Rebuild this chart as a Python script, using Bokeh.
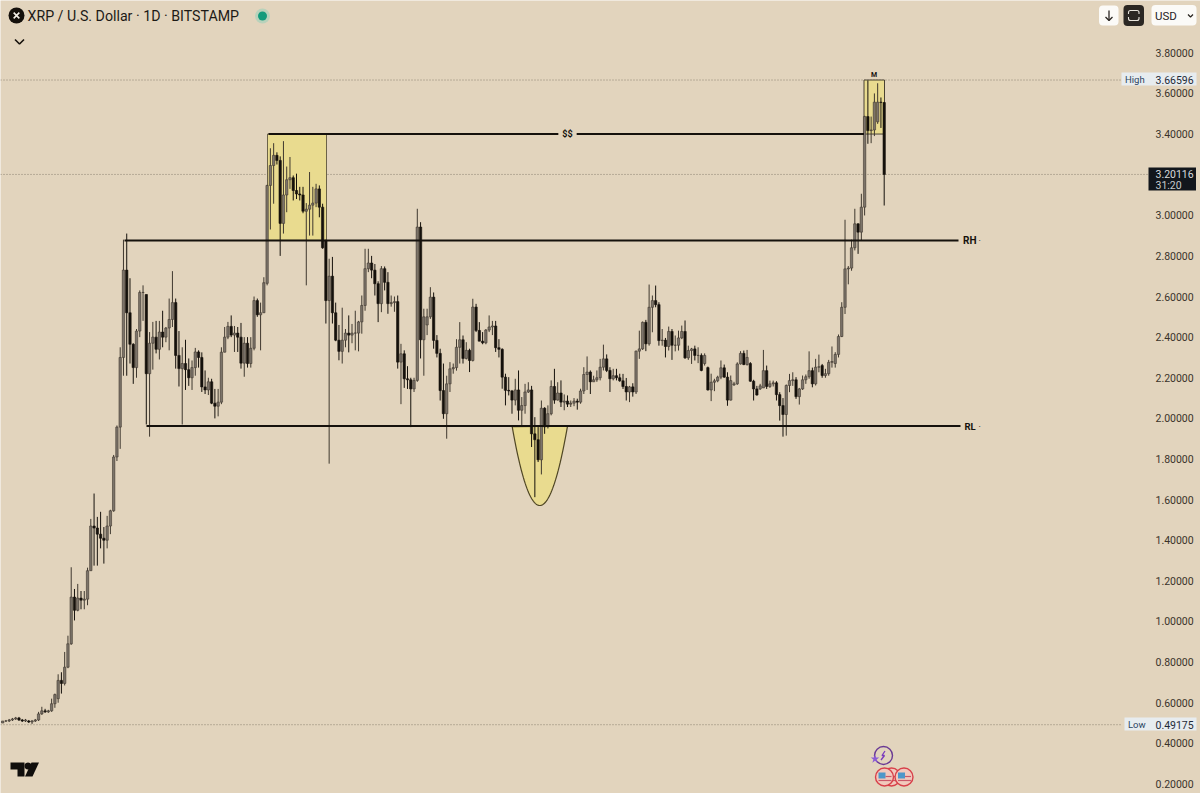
from bokeh.plotting import figure
from bokeh.models import Range1d, LinearAxis, FixedTicker, PrintfTickFormatter, Label
from bokeh.embed import file_html
from bokeh.resources import INLINE
import numpy as np

# ---- chart values (USD, one row of ten daily candles per line) ----
opens = [
 .50,.51,.51,.515,.52,.525,.515,.51,.51,.505,
 .51,.515,.545,.56,.555,.56,.595,.62,.71,.695,
 .775,.89,1.12,1.055,1.115,1.105,1.11,1.25,1.47,1.46,
 1.43,1.41,1.40,1.47,1.545,1.81,1.957,2.30,2.73,2.52,
 2.365,2.25,2.43,2.62,2.61,2.22,2.37,2.40,2.34,2.425,
 2.40,2.445,2.487,2.57,2.31,2.245,2.27,2.24,2.20,2.25,
 2.327,2.30,2.155,2.14,2.18,2.075,2.06,2.08,2.326,2.40,
 2.453,2.41,2.42,2.40,2.272,2.37,2.27,2.345,2.58,2.51,
 2.52,2.665,3.147,3.245,3.295,3.27,2.96,3.10,3.175,3.185,
 3.122,3.105,3.10,3.02,3.03,3.05,3.06,3.13,3.04,2.875,
 2.58,2.70,2.52,2.385,2.33,2.385,2.42,2.41,2.42,2.42,
 2.475,2.556,2.737,2.765,2.73,2.663,2.565,2.737,2.67,2.565,
 2.57,2.575,2.277,2.318,2.195,2.19,2.145,2.187,2.942,2.387,
 2.46,2.50,2.597,2.384,2.32,2.137,2.023,2.17,2.244,2.25,
 2.35,2.387,2.295,2.335,2.285,2.548,2.433,2.38,2.372,2.435,
 2.45,2.455,2.348,2.34,2.203,2.138,2.135,2.09,2.14,2.04,
 2.063,2.13,2.14,1.924,1.895,1.796,2.05,1.958,2.023,2.157,
 2.09,2.125,2.08,2.085,2.07,2.075,2.085,2.08,2.135,2.216,
 2.228,2.18,2.19,2.2,2.252,2.293,2.236,2.195,2.21,2.2,
 2.185,2.157,2.13,2.155,2.13,2.331,2.342,2.473,2.367,2.547,
 2.58,2.56,2.383,2.385,2.354,2.428,2.36,2.36,2.396,2.428,
 2.298,2.334,2.342,2.31,2.31,2.27,2.25,2.14,2.178,2.185,
 2.203,2.249,2.203,2.09,2.165,2.17,2.268,2.32,2.265,2.27,
 2.183,2.145,2.145,2.15,2.235,2.157,2.17,2.175,2.117,2.063,
 2.019,2.162,2.186,2.19,2.107,2.145,2.19,2.205,2.235,2.17,
 2.252,2.26,2.211,2.22,2.276,2.27,2.315,2.403,2.547,2.736,
 2.74,2.84,2.958,2.917,3.04,3.486,3.417,3.42,3.46,3.557,
 3.555]
highs = [
 .51,.515,.52,.525,.53,.53,.52,.52,.515,.515,
 .52,.555,.58,.57,.565,.62,.645,.74,.75,.85,
 .93,1.267,1.16,1.185,1.15,1.15,1.265,1.505,1.63,1.515,
 1.54,1.465,1.52,1.55,1.82,1.965,2.35,2.88,2.91,2.69,
 2.37,2.44,2.63,2.655,2.61,2.425,2.475,2.48,2.48,2.53,
 2.45,2.59,2.725,2.59,2.43,2.35,2.387,2.295,2.285,2.347,
 2.335,2.325,2.236,2.20,2.195,2.145,2.145,2.35,2.45,2.475,
 2.507,2.455,2.45,2.47,2.40,2.40,2.40,2.60,2.59,2.57,
 2.695,3.15,3.33,3.355,3.31,3.29,3.365,3.24,3.287,3.196,
 3.205,3.14,3.14,3.06,3.213,3.14,3.155,3.147,3.057,2.88,
 2.786,2.795,2.57,2.46,2.545,2.44,2.507,2.465,2.53,2.48,
 2.605,2.835,2.835,2.80,2.76,2.675,2.75,2.748,2.72,2.605,
 2.60,2.605,2.367,2.335,2.257,2.20,2.20,3.032,2.966,2.54,
 2.54,2.646,2.62,2.41,2.343,2.27,2.21,2.277,2.27,2.39,
 2.474,2.408,2.375,2.343,2.589,2.564,2.474,2.425,2.44,2.507,
 2.48,2.48,2.39,2.345,2.22,2.203,2.14,2.195,2.236,2.105,
 2.17,2.178,2.16,2.006,1.965,2.088,2.055,2.064,2.187,2.244,
 2.178,2.187,2.118,2.113,2.088,2.10,2.097,2.146,2.252,2.305,
 2.236,2.21,2.236,2.293,2.363,2.315,2.252,2.244,2.244,2.22,
 2.219,2.199,2.16,2.173,2.334,2.432,2.477,2.485,2.659,2.605,
 2.654,2.572,2.44,2.396,2.452,2.44,2.408,2.432,2.457,2.482,
 2.358,2.347,2.358,2.35,2.32,2.32,2.255,2.22,2.195,2.21,
 2.285,2.265,2.227,2.211,2.18,2.276,2.331,2.334,2.337,2.277,
 2.19,2.16,2.17,2.337,2.26,2.186,2.186,2.183,2.129,2.10,
 2.167,2.219,2.227,2.203,2.15,2.211,2.216,2.33,2.25,2.293,
 2.314,2.268,2.244,2.288,2.354,2.326,2.413,2.572,2.978,2.75,
 2.88,3.032,2.96,3.106,3.49,3.664,3.486,3.6,3.65,3.58,
 3.558]
lows = [
 .50,.505,.505,.51,.515,.51,.505,.505,.50,.495,
 .505,.51,.54,.55,.55,.555,.575,.60,.645,.685,
 .77,.885,1.005,1.05,1.06,1.06,1.08,1.25,1.275,1.275,
 1.36,1.285,1.36,1.43,1.54,1.79,1.85,2.21,2.21,2.27,
 2.17,2.2,2.40,2.48,1.97,1.91,2.24,2.32,2.29,2.35,
 2.375,2.335,2.45,2.245,2.157,1.97,2.14,2.16,2.14,2.21,
 2.25,2.13,2.12,2.115,2.07,2.0,2.01,2.07,2.325,2.39,
 2.40,2.327,2.327,2.245,2.205,2.25,2.25,2.335,2.50,2.335,
 2.52,2.655,2.93,3.057,3.25,2.80,2.91,3.015,3.13,3.073,
 3.08,3.073,3.01,2.655,2.90,2.90,3.04,2.99,2.835,2.467,
 1.777,2.467,2.38,2.286,2.27,2.35,2.325,2.37,2.335,2.33,
 2.417,2.53,2.72,2.69,2.605,2.474,2.523,2.63,2.515,2.55,
 2.525,2.245,2.07,2.15,2.145,1.957,2.13,2.18,2.295,2.21,
 2.41,2.49,2.343,2.30,2.088,1.998,1.90,2.13,2.22,2.235,
 2.27,2.27,2.29,2.228,2.28,2.425,2.38,2.365,2.365,2.425,
 2.41,2.327,2.30,2.146,2.064,2.113,2.023,2.064,1.99,1.965,
 2.023,2.125,1.859,1.612,1.785,1.724,1.924,1.95,2.015,2.072,
 2.088,2.056,2.04,2.056,2.056,2.06,2.043,2.072,2.12,2.14,
 2.12,2.18,2.18,2.187,2.236,2.228,2.13,2.187,2.187,2.18,
 2.145,2.088,2.08,2.107,2.12,2.293,2.337,2.331,2.358,2.424,
 2.547,2.358,2.358,2.30,2.334,2.288,2.33,2.334,2.39,2.293,
 2.288,2.268,2.285,2.272,2.232,2.26,2.137,2.085,2.134,2.178,
 2.193,2.2,2.062,2.088,2.16,2.165,2.265,2.262,2.26,2.18,
 2.088,2.112,2.14,2.15,2.145,2.15,2.157,2.088,1.989,1.91,
 1.915,2.129,2.16,2.096,2.068,2.14,2.17,2.195,2.153,2.162,
 2.227,2.2,2.2,2.21,2.25,2.25,2.30,2.40,2.514,2.66,
 2.727,2.827,2.81,2.876,2.999,3.352,3.355,3.39,3.45,3.43,
 3.048]
closes = [
 .51,.51,.515,.52,.525,.515,.51,.515,.505,.51,
 .515,.545,.56,.555,.56,.595,.64,.71,.695,.775,
 .89,1.12,1.055,1.115,1.105,1.11,1.25,1.47,1.46,1.43,
 1.41,1.40,1.47,1.545,1.81,1.957,2.30,2.73,2.52,2.365,
 2.25,2.43,2.62,2.62,2.22,2.37,2.40,2.34,2.425,2.40,
 2.445,2.487,2.57,2.31,2.245,2.27,2.24,2.20,2.25,2.327,
 2.30,2.155,2.14,2.18,2.075,2.06,2.08,2.326,2.40,2.453,
 2.41,2.42,2.40,2.272,2.37,2.27,2.345,2.58,2.51,2.52,
 2.668,3.147,3.245,3.295,3.27,2.96,3.10,3.175,3.185,3.122,
 3.105,3.10,3.02,3.03,3.05,3.06,3.13,3.04,2.84,2.58,
 2.70,2.52,2.385,2.33,2.385,2.42,2.41,2.42,2.42,2.475,
 2.556,2.737,2.765,2.73,2.663,2.565,2.737,2.67,2.565,2.57,
 2.575,2.277,2.318,2.195,2.19,2.145,2.187,2.942,2.387,2.50,
 2.50,2.597,2.384,2.32,2.137,2.023,2.17,2.244,2.25,2.35,
 2.387,2.295,2.335,2.285,2.548,2.433,2.38,2.372,2.435,2.45,
 2.455,2.348,2.34,2.203,2.138,2.135,2.09,2.14,2.04,2.063,
 2.13,2.14,1.924,1.895,1.796,2.05,1.958,2.023,2.157,2.09,
 2.125,2.08,2.085,2.07,2.075,2.085,2.08,2.135,2.216,2.228,
 2.18,2.19,2.2,2.252,2.293,2.236,2.195,2.21,2.20,2.185,
 2.157,2.13,2.155,2.13,2.331,2.342,2.473,2.367,2.547,2.58,
 2.56,2.383,2.385,2.354,2.428,2.36,2.36,2.396,2.428,2.298,
 2.334,2.342,2.31,2.31,2.236,2.31,2.14,2.178,2.185,2.203,
 2.249,2.203,2.09,2.186,2.17,2.268,2.32,2.265,2.30,2.183,
 2.145,2.115,2.16,2.235,2.157,2.17,2.175,2.117,2.063,2.019,
 2.162,2.186,2.19,2.107,2.145,2.19,2.205,2.235,2.17,2.252,
 2.254,2.211,2.22,2.276,2.28,2.315,2.403,2.547,2.736,2.74,
 2.84,2.958,2.917,3.04,3.486,3.417,3.42,3.557,3.557,3.555,
 3.20116]

# the 3.20000 tick sits under the last-price tag in the reference, so it is not shown
price_ticks = [0.2,0.4,0.6,0.8,1.0,1.2,1.4,1.6,1.8,2.0,2.2,2.4,2.6,2.8,3.0,3.4,3.6,3.8]
high_price, low_price, last_price = 3.66596, 0.49175, 3.20116
range_high, range_low, sweep_level = 2.876, 1.962, 3.40

# ---- look ----
BG = "#e2d4bd"; YELLOW = "#e9db8f"; INK = "#15110c"; UP = "#7c746a"; WICK = "#3f382f"
AXIS = "#3a332a"; FONT = "Roboto"

# the frame fills the page; helper scales read positions in page pixels
W, H = 1200, 793
def p_of(yref): return 3.8 - (yref - 52.3) / 203.1
def i_of(xref): return (xref - 2.15) / 3.265

p = figure(width=W, height=H, output_backend="svg", toolbar_location=None,
           x_range=Range1d(i_of(0), i_of(W)), y_range=Range1d(p_of(H), p_of(0)),
           x_axis_location=None, y_axis_location=None,
           background_fill_color=BG, border_fill_color=BG, outline_line_color=None,
           min_border=0)
p.grid.visible = False
p.extra_x_ranges["ref"] = Range1d(0, W)
p.extra_y_ranges["ref"] = Range1d(H, 0)
R = dict(x_range_name="ref", y_range_name="ref")

ax = LinearAxis(ticker=FixedTicker(ticks=price_ticks), formatter=PrintfTickFormatter(format="%.5f"),
                fixed_location=i_of(1148))
ax.axis_line_color = None; ax.major_tick_line_color = None; ax.minor_tick_line_color = None
ax.major_label_text_font = FONT; ax.major_label_text_font_size = "10.5px"
ax.major_label_text_color = AXIS; ax.major_label_standoff = 1
p.add_layout(ax, "right")

# dotted high / last / low
DOT = dict(line_color="#8b8070", line_width=1, line_dash="1 2")
p.segment(i_of(0), high_price, i_of(1122), high_price, **DOT)
p.segment(i_of(0), last_price, i_of(1149), last_price, **DOT)
p.segment(i_of(0), low_price, i_of(1122), low_price, **DOT)

# highlighted zones
i_zone = (i_of(267), i_of(326)); i_m = (i_of(863.5), i_of(884))
p.quad(left=i_zone[0], right=i_zone[1], top=sweep_level, bottom=range_high, fill_color=YELLOW, line_color="#6b6248", line_width=1)
p.quad(left=i_m[0], right=i_m[1], top=high_price, bottom=sweep_level, fill_color=YELLOW, line_color="#4a4232", line_width=1)
bowl_i = np.linspace(i_of(511.7), i_of(567), 61)
bowl_mid = i_of(539.3); bowl_half = i_of(567) - bowl_mid
bowl_depth = range_low - p_of(505)
p.patch(bowl_i, range_low - bowl_depth * (1 - np.abs((bowl_i - bowl_mid) / bowl_half) ** 2.0),
        fill_color=YELLOW, line_color="#4f4624", line_width=1.2)

# candles
idx = np.arange(len(closes))
o, h, l, c = map(np.array, (opens, highs, lows, closes))
h = np.maximum.reduce([h, o, c]); l = np.minimum.reduce([l, o, c])
up = c >= o
p.segment(idx[up], h[up], idx[up], l[up], line_color=WICK, line_width=1)
p.segment(idx[~up], h[~up], idx[~up], l[~up], line_color=INK, line_width=1)
p.vbar(idx[up], 0.72, o[up], c[up], fill_color=UP, line_color=WICK, line_width=0.6)
p.vbar(idx[~up], 0.72, c[~up], o[~up], fill_color=INK, line_color=INK, line_width=0.6)

# drawn levels
p.segment(i_of(124), range_high, i_of(958), range_high, line_color=INK, line_width=2)
p.segment(i_of(146), range_low, i_of(960), range_low, line_color=INK, line_width=2)
p.segment(i_of(268), sweep_level, i_of(863.5), sweep_level, line_color=INK, line_width=2)

def tag(x, y, text, size="9px", color=INK, bg=None, align="left", style="normal", pad=None):
    kw = {}
    if bg: kw.update(background_fill_color=bg)
    if pad is not None: kw.update(padding=pad)
    p.add_layout(Label(x=x, y=y, text=text, text_font=FONT, text_font_size=size, text_color=color,
                       text_align=align, text_baseline="middle", text_font_style=style, **R, **kw))

tag(567, 133.5, "$$", size="9px", align="center", bg=BG, style="bold", pad=(4, 0))
tag(962.5, 240, "RH", size="10px", style="bold"); tag(964, 426, "RL", size="9.5px", style="bold")
tag(978, 240, "·", size="9px"); tag(978, 426, "·", size="9px")
tag(873.5, 74.5, "M", size="7px", align="center", style="bold")

# header
p.scatter([16], [15], marker="circle", size=16, fill_color=INK, line_color=None, **R)
p.scatter([16], [15], marker="x", size=8, fill_color=None, line_color="#f4f0e8", line_width=1.6, **R)
tag(27, 15.5, "XRP / U.S. Dollar · 1D · BITSTAMP", size="14.2px", color="#1d1a16")
p.scatter([262], [15.5], marker="circle", size=15, fill_color="#a6d2ba", fill_alpha=0.7, line_color=None, **R)
p.scatter([262], [15.5], marker="circle", size=9, fill_color="#129b7c", line_color=None, **R)
p.line([14.5, 19, 23.5], [39, 43.5, 39], line_color=INK, line_width=1.6, **R)

# top-right controls
p.quad(left=1098.5, right=1118, top=5, bottom=25, fill_color="#fbfaf7", line_color=None, border_radius=4, **R)
p.segment(1108.5, 10, 1108.5, 20, line_color="#2a2622", line_width=1.3, **R)
p.line([1105, 1108.5, 1112], [16.5, 20, 16.5], line_color="#2a2622", line_width=1.3, **R)
p.quad(left=1123, right=1143.5, top=4.5, bottom=25.5, fill_color="#2b2723", line_color=None, border_radius=4, **R)
p.quad(left=1128, right=1138.5, top=10, bottom=20, fill_color=None, line_color="#e8e4dc", line_width=1.1, border_radius=2, **R)
p.segment(1127, 15, 1140, 15, line_color="#2b2723", line_width=3, **R)
p.quad(left=1151, right=1196, top=4.5, bottom=25, fill_color="#fbfaf7", line_color=None, border_radius=4, **R)
tag(1154.5, 15.5, "USD", size="11.5px", color="#27231f")
p.line([1187.5, 1190, 1192.5], [14, 16.5, 14], line_color="#27231f", line_width=1.2, **R)

# price tags
p.quad(left=1121, right=1196, top=72, bottom=85, fill_color="#e7ecef", line_color=None, **R)
tag(1124.5, 78.8, "High", size="9.5px", color="#2c4460")
tag(1155, 79, "3.66596", size="10.5px", color="#1f2b38")
p.quad(left=1124, right=1196, top=717, bottom=730, fill_color="#e7ecef", line_color=None, **R)
tag(1127.5, 723.8, "Low", size="9.5px", color="#2c4460")
tag(1155, 724, "0.49175", size="10.5px", color="#1f2b38")
p.quad(left=1148, right=1195.5, top=167, bottom=190, fill_color="#12161c", line_color=None, **R)
tag(1155, 173.5, "3.20116", size="10.5px", color="#d7dadd")
tag(1155, 184.5, "31:20", size="10.5px", color="#c6cacd")

# TradingView mark
p.patch([10, 24, 24, 17, 17, 10], [762, 762, 776, 776, 769, 769], fill_color="#100e0c", line_color=None, **R)
p.scatter([27.5], [765.5], marker="circle", size=7, fill_color="#100e0c", line_color=None, **R)
p.patch([31, 38.5, 32, 24.5], [762, 762, 776, 776], fill_color="#100e0c", line_color=None, **R)

# event markers
p.scatter([883], [755], marker="circle", size=18, fill_color=BG, line_color="#6a3a94", line_width=1.4, **R)
p.line([884.5, 881.5, 884, 880.5], [750.5, 755, 755, 759.5], line_color="#7a3bbd", line_width=1.3, **R)
p.scatter([874.5], [758.5], marker="star", size=9, fill_color="#8b5bd6", line_color=None, **R)
for fx in (891, 884, 903.5):
    p.scatter([fx], [776.5], marker="circle", size=18, fill_color="#f1c9bd", line_color="#d8404a", line_width=1.4, **R)
    p.quad(left=fx - 6, right=fx + 1, top=772, bottom=778, fill_color="#4d97c9", line_color=None, **R)
    p.segment(fx - 6, 780, fx + 7, 780, line_color="#c9596a", line_width=1.2, **R)
    p.segment(fx + 1, 776, fx + 7, 776, line_color="#c9596a", line_width=1.2, **R)

open("out.html", "w").write(file_html(p, INLINE))
